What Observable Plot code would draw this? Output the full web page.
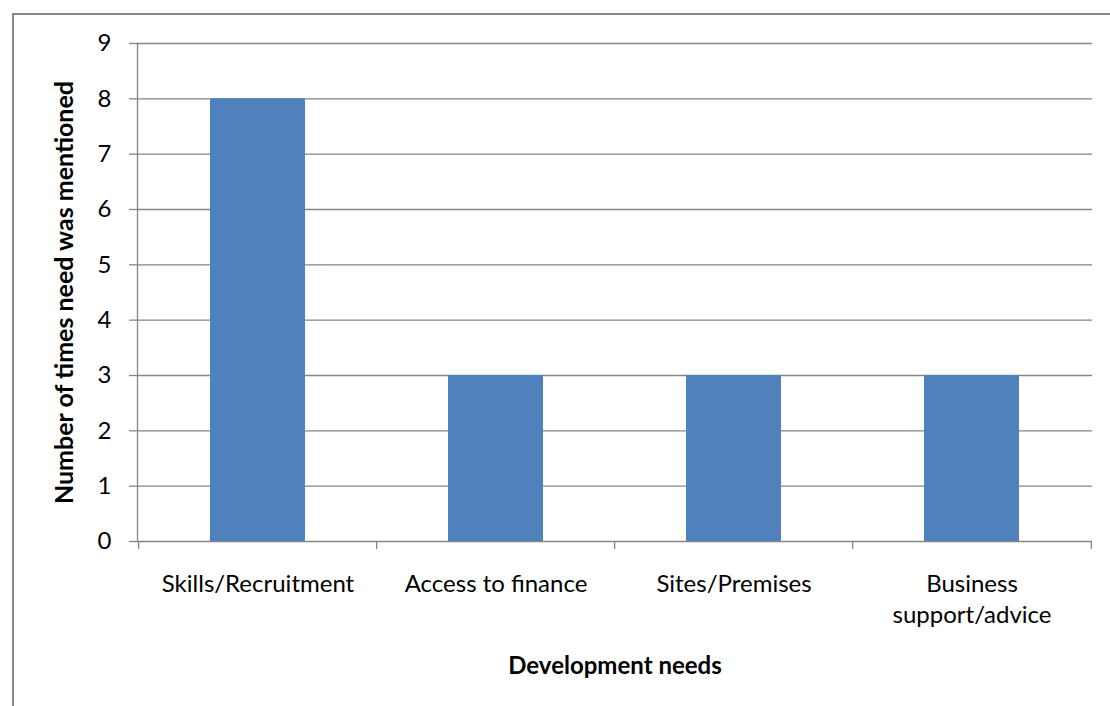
<!DOCTYPE html>
<html><head><meta charset="utf-8">
<script src="https://cdn.jsdelivr.net/npm/d3@7"></script>
<script src="https://cdn.jsdelivr.net/npm/@observablehq/plot@0.6"></script>
<style>
html,body{margin:0;padding:0;background:#fff;overflow:hidden;}
#wrap{position:relative;width:1110px;height:706px;overflow:hidden;}
#border{position:absolute;left:12px;top:13px;width:1200px;height:900px;border:2px solid #878787;pointer-events:none;}
#chart svg{display:block;}
</style></head><body>
<div id="wrap"><div id="chart"></div><div id="border"></div></div>
<script>
const categories = ["Skills/Recruitment", "Access to finance", "Sites/Premises", "Business support/advice"];
const values = [8, 3, 3, 3];
const yTicks = [0, 1, 2, 3, 4, 5, 6, 7, 8, 9];
const tickLabels = {"Business support/advice": "Business\nsupport/advice"};
const xTitle = "Development needs";
const yTitle = "Number of times need was mentioned";

const data = categories.map((c, i) => ({category: c, value: values[i]}));

const W = 1110, H = 706, mL = 137, mR = 18, mT = 43, mB = 165;
const step = (W - mL - mR) / categories.length;
const gray = "#868686";

const chart = Plot.plot({
  width: W, height: H,
  marginLeft: mL, marginRight: mR, marginTop: mT, marginBottom: mB,
  style: {fontFamily: "Lato, 'Open Sans', sans-serif", fontSize: "24px", color: "#000", background: "#fff"},
  x: {domain: categories, paddingInner: 0.6, paddingOuter: 0.3, label: null},
  y: {domain: [0, 9], label: null},
  marks: [
    Plot.gridY(yTicks, {stroke: gray, strokeOpacity: 1, strokeWidth: 1.3}),
    Plot.barY(data, {x: "category", y: "value", fill: "#4F81BD"}),
    Plot.frame({anchor: "left", stroke: gray, strokeWidth: 1.3}),
    Plot.axisY(yTicks, {tickSize: 8, tickPadding: 18, tickFormat: d => String(d), stroke: gray, strokeWidth: 1.3, fill: "#000", label: null}),
    Plot.axisX({tickSize: 0, tickPadding: 28, tickFormat: d => tickLabels[d] ?? d, lineHeight: 1.3, fill: "#000", label: null}),
    Plot.ruleX(categories, {x: d => d, y1: 0, y2: 0, dx: -step / 2, insetBottom: -8, stroke: gray, strokeWidth: 1.3}),
    Plot.ruleX(categories.slice(-1), {x: d => d, y1: 0, y2: 0, dx: step / 2, insetBottom: -8, stroke: gray, strokeWidth: 1.3}),
    Plot.text([xTitle], {frameAnchor: "bottom", dy: 132, fontWeight: "bold", fill: "#000"}),
    Plot.text([yTitle], {frameAnchor: "left", textAnchor: "middle", dx: -73, rotate: -90, fontWeight: "bold", fontSize: 25, fill: "#000"})
  ]
});
document.getElementById("chart").appendChild(chart);
</script>
</body></html>
